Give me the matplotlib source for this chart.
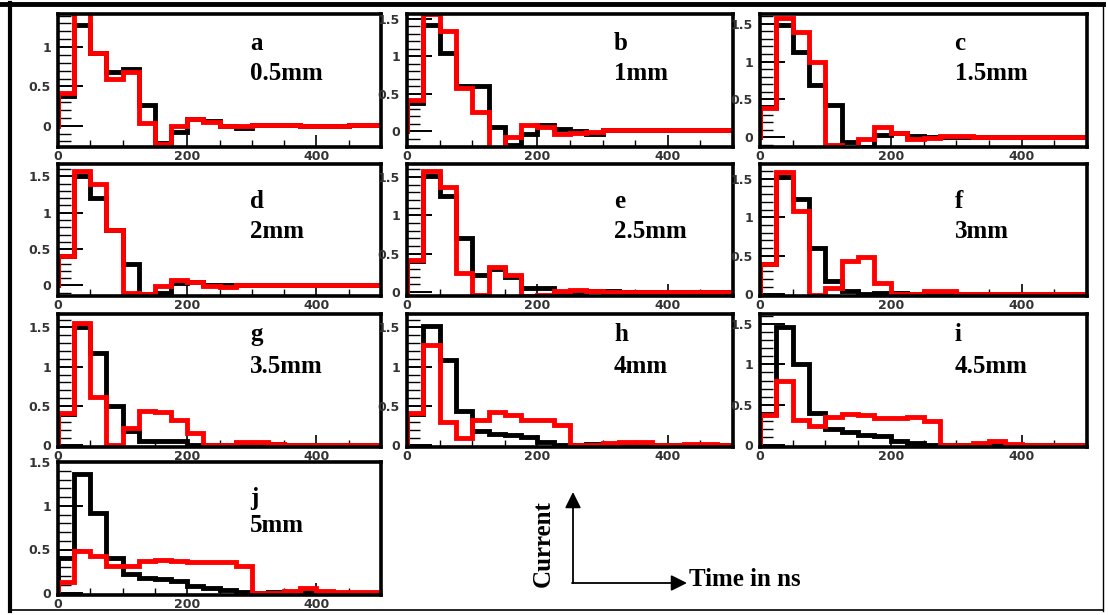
import numpy as np
import matplotlib
matplotlib.use("Agg")
import matplotlib.pyplot as plt
from matplotlib.ticker import MultipleLocator, FuncFormatter
from matplotlib.lines import Line2D

# time bins (ns), 25 ns wide
bin_edges = np.linspace(0, 500, 21)

letters = ["a", "b", "c", "d", "e", "f", "g", "h", "i", "j"]
gaps = ["0.5mm", "1mm", "1.5mm", "2mm", "2.5mm", "3mm", "3.5mm", "4mm", "4.5mm", "5mm"]

a_black = [0.38, 1.28, 0.92, 0.68, 0.72, 0.27, -0.22, -0.08, 0.08, 0.06, 0.0, -0.03, 0.01, 0.01, 0.01, 0.0, 0.0, 0.0, 0.01, 0.01]
a_red = [0.42, 1.55, 0.93, 0.60, 0.68, 0.04, -0.23, 0.0, 0.09, 0.05, 0.0, 0.0, 0.01, 0.01, 0.01, 0.0, 0.0, 0.0, 0.01, 0.01]
b_black = [0.37, 1.42, 1.04, 0.60, 0.60, 0.05, -0.19, -0.04, 0.08, 0.03, 0.0, -0.04, 0.01, 0.01, 0.01, 0.01, 0.01, 0.01, 0.01, 0.01]
b_red = [0.41, 1.56, 1.33, 0.58, 0.25, -0.35, -0.08, 0.08, 0.05, -0.04, -0.03, -0.01, 0.01, 0.01, 0.01, 0.01, 0.01, 0.01, 0.01, 0.01]
c_black = [0.40, 1.49, 1.13, 0.69, 0.42, -0.07, -0.13, 0.03, 0.06, 0.01, 0.0, 0.0, 0.0, 0.0, 0.0, 0.0, 0.0, 0.0, 0.0, 0.0]
c_red = [0.39, 1.58, 1.39, 1.0, -0.10, -0.14, -0.03, 0.14, 0.06, -0.02, -0.01, 0.01, 0.01, 0.0, 0.0, 0.0, 0.0, 0.0, 0.0, 0.0]
d_black = [0.40, 1.51, 1.20, 0.76, 0.29, -0.12, -0.10, 0.04, 0.05, 0.0, 0.0, 0.0, 0.0, 0.0, 0.0, 0.0, 0.0, 0.0, 0.0, 0.0]
d_red = [0.41, 1.58, 1.40, 0.76, -0.10, -0.12, -0.01, 0.08, 0.05, -0.01, -0.02, 0.0, 0.01, 0.01, 0.0, 0.0, 0.0, 0.0, 0.0, 0.0]
e_black = [0.40, 1.52, 1.25, 0.70, 0.23, 0.30, 0.20, 0.06, 0.06, 0.0, 0.0, 0.02, 0.02, 0.0, 0.0, 0.0, 0.0, 0.0, 0.0, 0.0]
e_red = [0.42, 1.58, 1.37, 0.25, -0.04, 0.33, 0.23, -0.05, -0.04, 0.02, 0.03, 0.01, 0.0, 0.0, 0.0, 0.0, 0.0, 0.0, 0.0, 0.0]
f_black = [0.40, 1.52, 1.24, 0.60, 0.17, 0.04, 0.01, 0.02, 0.02, 0.0, 0.02, 0.02, 0.0, 0.0, 0.0, 0.0, 0.0, 0.0, 0.0, 0.0]
f_red = [0.40, 1.58, 1.08, -0.01, 0.09, 0.43, 0.48, 0.15, 0.0, 0.0, 0.05, 0.04, 0.0, 0.0, 0.01, 0.01, 0.0, 0.0, 0.0, 0.0]
g_black = [0.40, 1.51, 1.18, 0.50, 0.18, 0.06, 0.06, 0.05, 0.01, 0.0, 0.0, 0.03, 0.03, 0.02, 0.0, 0.0, 0.0, 0.0, 0.0, 0.0]
g_red = [0.41, 1.55, 0.61, 0.0, 0.22, 0.44, 0.42, 0.32, 0.16, 0.0, 0.0, 0.04, 0.04, 0.02, 0.01, 0.01, 0.01, 0.01, 0.01, 0.01]
h_black = [0.40, 1.52, 1.08, 0.44, 0.18, 0.14, 0.13, 0.11, 0.04, 0.0, 0.0, 0.02, 0.02, 0.02, 0.01, 0.0, 0.0, 0.0, 0.0, 0.0]
h_red = [0.41, 1.27, 0.30, 0.09, 0.32, 0.43, 0.39, 0.32, 0.32, 0.26, 0.0, 0.0, 0.03, 0.04, 0.04, 0.01, 0.01, 0.02, 0.02, 0.01]
i_black = [0.39, 1.46, 1.0, 0.40, 0.20, 0.16, 0.13, 0.12, 0.06, 0.03, 0.0, 0.0, 0.0, 0.0, 0.02, 0.01, 0.0, 0.0, 0.0, 0.0]
i_red = [0.37, 0.79, 0.31, 0.24, 0.35, 0.39, 0.37, 0.34, 0.34, 0.35, 0.30, 0.0, 0.0, 0.03, 0.05, 0.02, 0.01, 0.01, 0.01, 0.01]
j_black = [0.40, 1.36, 0.92, 0.40, 0.22, 0.17, 0.16, 0.14, 0.08, 0.06, 0.04, 0.01, 0.0, 0.01, 0.0, 0.02, 0.01, 0.0, 0.0, 0.0]
j_red = [0.13, 0.48, 0.43, 0.31, 0.31, 0.37, 0.38, 0.37, 0.36, 0.36, 0.36, 0.31, 0.0, 0.0, 0.03, 0.06, 0.03, 0.02, 0.01, 0.01]

black_series = [a_black, b_black, c_black, d_black, e_black, f_black, g_black, h_black, i_black, j_black]
red_series = [a_red, b_red, c_red, d_red, e_red, f_red, g_red, h_red, i_red, j_red]

# y ranges of each pad
y_ranges = [(-0.27, 1.42), (-0.21, 1.56), (-0.13, 1.63), (-0.145, 1.67), (-0.05, 1.67),
            (-0.02, 1.69), (-0.02, 1.67), (-0.02, 1.67), (-0.02, 1.62), (-0.02, 1.5)]

W, H = 1108, 615
fig = plt.figure(figsize=(W / 100, H / 100), dpi=100)

# pad geometry in pixels (left, right) / (top, bottom)
cols = [(58, 381), (407, 733), (760, 1087)]
rows = [(14, 147), (164, 296), (314, 447), (462, 595)]
text_x = [0.595, 0.635, 0.595]
text_y = [(0.73, 0.50), (0.67, 0.44), (0.80, 0.56), (0.68, 0.47)]

serif = dict(family="Liberation Serif", weight="bold", size=18)

for k in range(10):
    r, c = divmod(k, 3)
    (left, right), (top, bottom) = cols[c], rows[r]
    ax = fig.add_axes([left / W, 1 - bottom / H, (right - left) / W, (bottom - top) / H])

    ax.stairs(black_series[k], bin_edges, baseline=None, color="black", lw=3.5, zorder=2)
    ax.stairs(red_series[k], bin_edges, baseline=None, color="#ff0000", lw=3.5, zorder=3)
    # ROOT draws the rise from zero at t=0
    ax.plot([0, 0], [0, black_series[k][0]], color="black", lw=3.5, zorder=2)
    ax.plot([0, 0], [0, red_series[k][0]], color="#ff0000", lw=3.5, zorder=3)

    ax.set_xlim(0, 500)
    ax.set_ylim(*y_ranges[k])

    ax.xaxis.set_major_locator(MultipleLocator(200))
    ax.xaxis.set_minor_locator(MultipleLocator(50))
    ax.yaxis.set_major_locator(MultipleLocator(0.5))
    ax.yaxis.set_minor_locator(MultipleLocator(0.1))
    ax.xaxis.set_major_formatter(FuncFormatter(lambda v, p: "%g" % v))
    ax.yaxis.set_major_formatter(FuncFormatter(lambda v, p: "%g" % v))

    ax.tick_params(axis="y", which="major", direction="in", length=18, width=1.4, pad=5,
                   labelsize=9, labelcolor="#333333")
    ax.tick_params(axis="y", which="minor", direction="in", length=9, width=1.0)
    ax.tick_params(axis="x", which="major", direction="in", length=9, width=1.2, pad=2,
                   labelsize=9, labelcolor="#333333")
    ax.tick_params(axis="x", which="minor", direction="in", length=5, width=1.0)
    for lab in ax.get_xticklabels() + ax.get_yticklabels():
        lab.set_fontweight("bold")

    for sp in ax.spines.values():
        sp.set_linewidth(2.6)
        sp.set_zorder(4)

    ax.text(text_x[c], text_y[r][0], letters[k], transform=ax.transAxes, va="baseline", **serif)
    ax.text(text_x[c], text_y[r][1], gaps[k], transform=ax.transAxes, va="baseline", **serif)

# axis legend: Current vs Time in ns
arrow = dict(arrowstyle="-|>", color="black", lw=1.3, mutation_scale=24, shrinkA=0, shrinkB=0)
fig.add_artist(plt.Annotation("", xy=(573, H - 492), xytext=(573, H - 583),
                              xycoords="figure pixels", textcoords="figure pixels", arrowprops=arrow))
fig.add_artist(plt.Annotation("", xy=(687, H - 583), xytext=(572, H - 583),
                              xycoords="figure pixels", textcoords="figure pixels", arrowprops=arrow))
fig.text(543 / W, 1 - 544 / H, "Current", rotation=90, ha="center", va="center", **serif)
fig.text(689 / W, 1 - 580 / H, "Time in ns", ha="left", va="center", **serif)

# outer border
fig.add_artist(Line2D([0, 1103 / W], [1 - 4 / H, 1 - 4 / H], transform=fig.transFigure, color="black", lw=3.5))
fig.add_artist(Line2D([10 / W, 10 / W], [1 - 3 / H, 1 - 611 / H], transform=fig.transFigure, color="black", lw=3.0))
fig.add_artist(Line2D([10 / W, 1103 / W], [1 - 610 / H, 1 - 610 / H], transform=fig.transFigure, color="black", lw=1.2))
fig.add_artist(Line2D([1103 / W, 1103 / W], [1 - 3 / H, 1 - 611 / H], transform=fig.transFigure, color="black", lw=1.0))

fig.savefig("out.png", dpi=100)
